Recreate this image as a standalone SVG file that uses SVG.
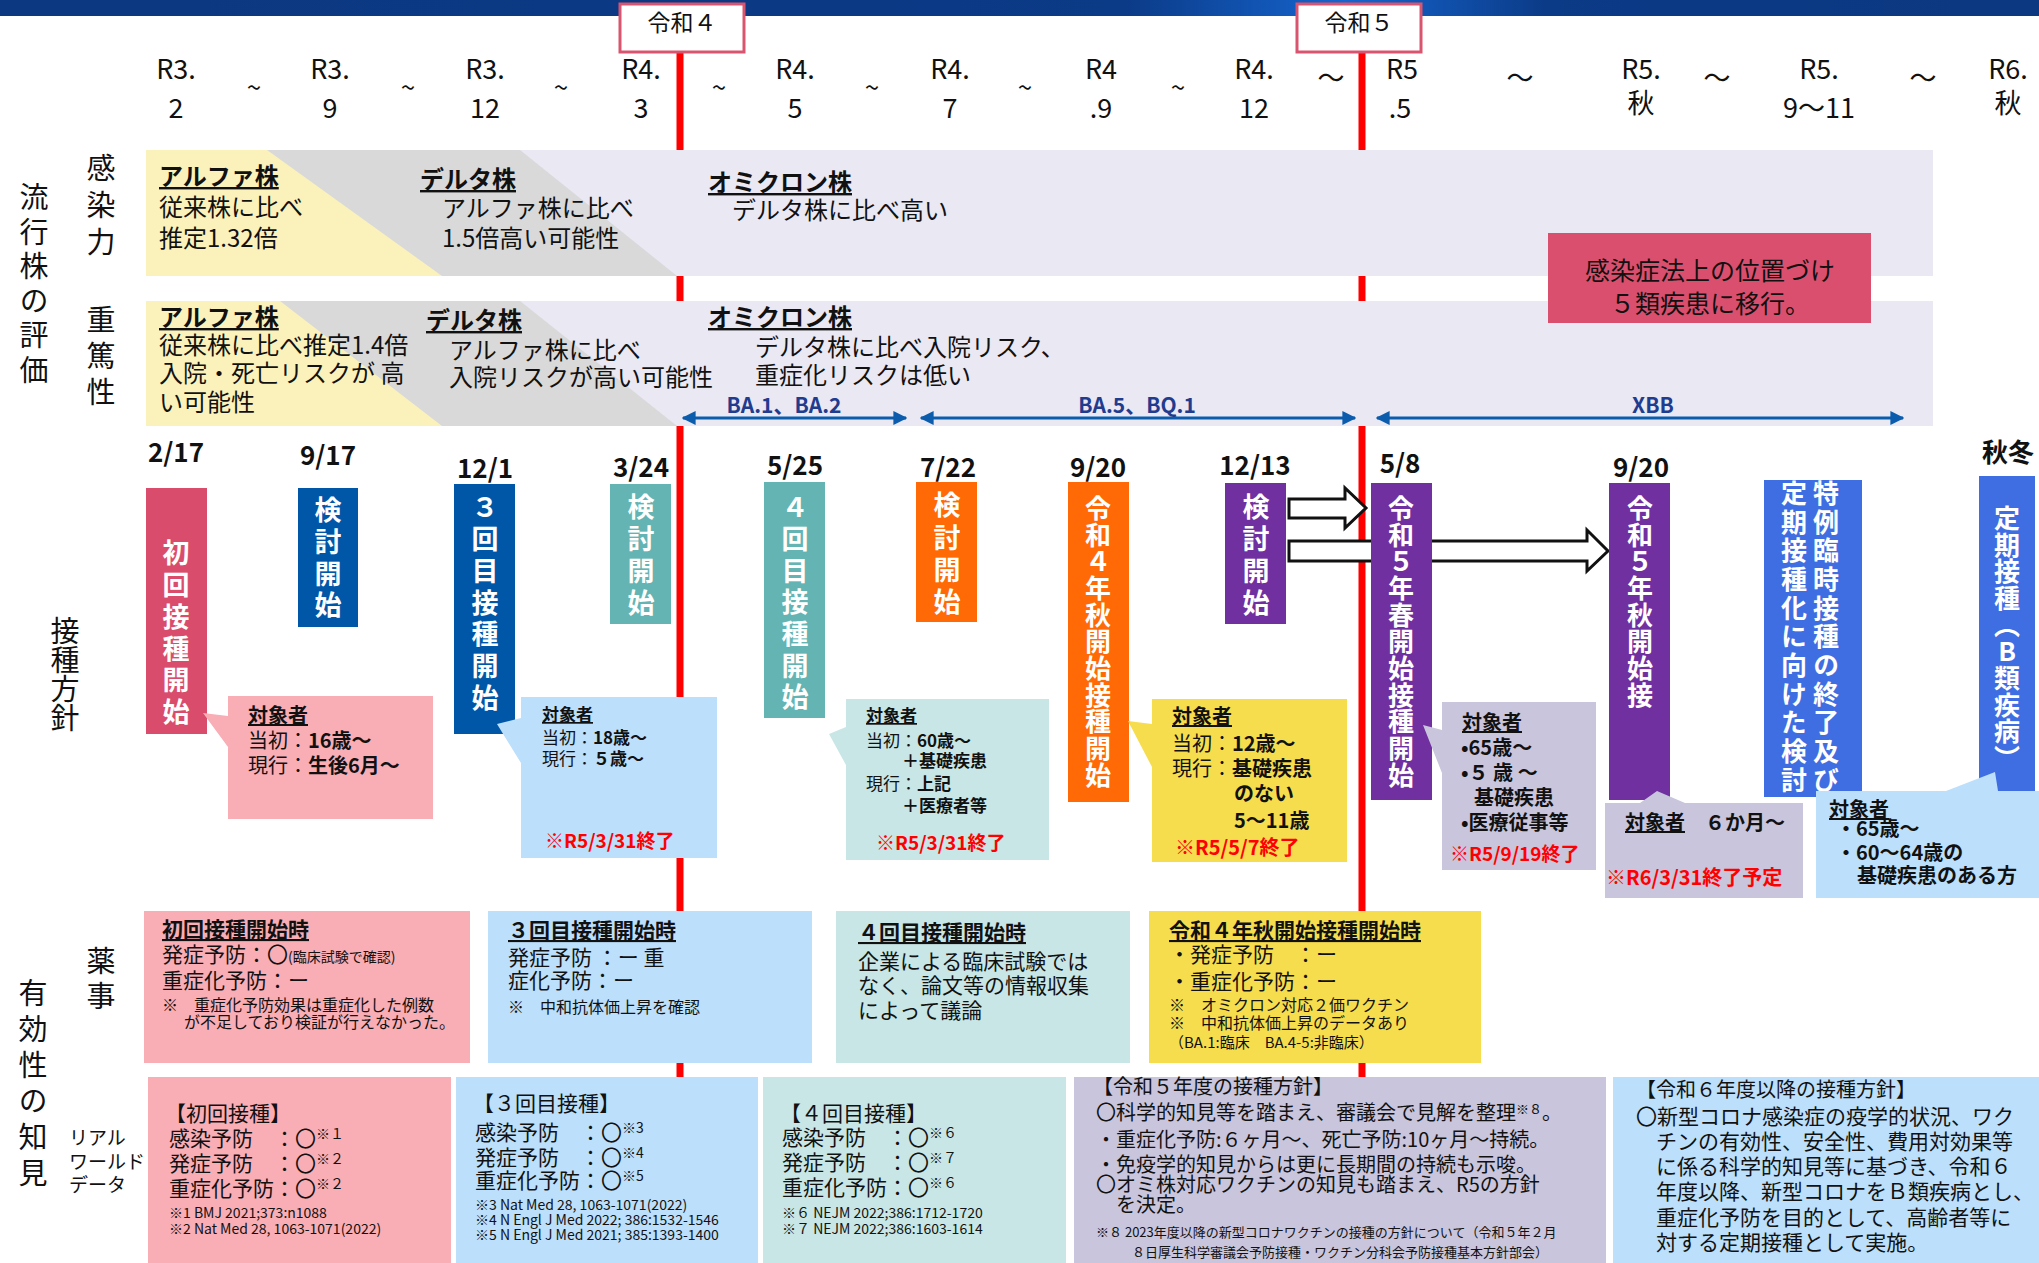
<svg xmlns="http://www.w3.org/2000/svg" width="2039" height="1263" viewBox="0 0 2039 1263">
<defs>
<linearGradient id="ban" x1="0" x2="1" y1="0" y2="0">
<stop offset="0" stop-color="#0b3880"/>
<stop offset="0.55" stop-color="#0b3a86"/>
<stop offset="0.66" stop-color="#1565cf"/>
<stop offset="0.76" stop-color="#0b3a86"/>
<stop offset="1" stop-color="#0b3880"/>
</linearGradient>
<marker id="ah" viewBox="0 0 10 10" refX="9" refY="5" markerWidth="14" markerHeight="16" markerUnits="userSpaceOnUse" orient="auto-start-reverse"><path d="M0,0 L10,5 L0,10 z" fill="#0b5cad"/></marker>
</defs>
<style>
text{font-family:"Noto Sans CJK JP","Noto Sans",sans-serif;fill:#111;}
.b{font-weight:700}
.u{text-decoration:underline}
.r{fill:#ff0000;font-weight:700}
.vt{writing-mode:vertical-rl;text-orientation:upright;font-weight:700;fill:#fff;font-size:27px}
.vt2{writing-mode:vertical-rl;text-orientation:upright;font-weight:700;fill:#fff;font-size:26px}
.vl{writing-mode:vertical-rl;text-orientation:upright;font-size:29px}
.hd{font-size:27px;text-anchor:middle}
.tl{font-size:26px;text-anchor:middle}
.tl2{font-size:27px;text-anchor:middle}
.dt{font-size:26px;font-weight:700;text-anchor:middle}
.ev{font-size:24px}
.ba{font-size:21px;font-weight:700;fill:#1f3c8f;text-anchor:middle}
.rl{stroke:#ff0000;stroke-width:7}
.eva{fill:#e9e8f3}
.gry{fill:#d9d9d9}
.ylw{fill:#fbf2bb}
.pk{fill:#f9adb5}
.lb{fill:#bcdffb}
.tq{fill:#c8e6e5}
.yl{fill:#f6dd4e}
.lv{fill:#c8c5dc}
.blk{fill:#fff;stroke:#111;stroke-width:3;stroke-linejoin:miter}
.baa{stroke:#0b5cad;stroke-width:3;fill:none}
</style>

<rect x="0" y="0" width="2039" height="1263" fill="#fff"/>
<rect x="0" y="0" width="2039" height="16" fill="url(#ban)"/>

<g id="redlines">
<line class="rl" x1="680" y1="50" x2="680" y2="1078"/>
<line class="rl" x1="1362" y1="50" x2="1362" y2="1078"/>
</g>

<g id="year-r4">
<rect x="620" y="4" width="124" height="48" fill="#fff" stroke="#d9546e" stroke-width="3"/>
<text x="682" y="31" font-size="23" text-anchor="middle">令和４</text>
</g>
<g id="year-r5">
<rect x="1297" y="4" width="124" height="48" fill="#fff" stroke="#d9546e" stroke-width="3"/>
<text x="1359" y="31" font-size="23" text-anchor="middle">令和５</text>
</g>

<g id="timeline-header">
<text class="hd" x="176" y="79">R3.</text><text class="hd" x="176" y="118">2</text>
<text class="tl" x="254" y="97">~</text>
<text class="hd" x="330" y="79">R3.</text><text class="hd" x="330" y="118">9</text>
<text class="tl" x="408" y="97">~</text>
<text class="hd" x="485" y="79">R3.</text><text class="hd" x="485" y="118">12</text>
<text class="tl" x="561" y="97">~</text>
<text class="hd" x="641" y="79">R4.</text><text class="hd" x="641" y="118">3</text>
<text class="tl" x="719" y="97">~</text>
<text class="hd" x="795" y="79">R4.</text><text class="hd" x="795" y="118">5</text>
<text class="tl" x="872" y="97">~</text>
<text class="hd" x="950" y="79">R4.</text><text class="hd" x="950" y="118">7</text>
<text class="tl" x="1025" y="97">~</text>
<text class="hd" x="1101" y="79">R4</text><text class="hd" x="1101" y="118">.9</text>
<text class="tl" x="1178" y="97">~</text>
<text class="hd" x="1254" y="79">R4.</text><text class="hd" x="1254" y="118">12</text>
<text class="tl2" x="1331" y="88">～</text>
<text class="hd" x="1402" y="79">R5</text><text class="hd" x="1400" y="118">.5</text>
<text class="tl2" x="1520" y="88">～</text>
<text class="hd" x="1641" y="79">R5.</text><text class="hd" x="1641" y="113">秋</text>
<text class="tl2" x="1717" y="88">～</text>
<text class="hd" x="1819" y="79">R5.</text><text class="hd" x="1819" y="118">9～11</text>
<text class="tl2" x="1923" y="88">～</text>
<text class="hd" x="2008" y="79">R6.</text><text class="hd" x="2008" y="113">秋</text>
</g>

<g id="side-labels">
<text class="vl" x="34" y="182.5" style="letter-spacing:5.6px">流行株の評価</text>
<text class="vl" x="101" y="153.5" style="letter-spacing:8px">感染力</text>
<text class="vl" x="101" y="305.5" style="letter-spacing:7px">重篤性</text>
<text class="vl" x="65" y="616" style="letter-spacing:0px">接種方針</text>
<text class="vl" x="101" y="946.5" style="letter-spacing:6px">薬事</text>
<text class="vl" x="33" y="978.5" style="letter-spacing:7px">有効性の知見</text>
<text font-size="19" x="69" y="1145">リアル</text>
<text font-size="19" x="69" y="1169">ワールド</text>
<text font-size="19" x="69" y="1192">データ</text>
</g>

<g id="row-infectivity">
<rect class="eva" x="146" y="150" width="1787" height="126"/>
<polygon class="gry" points="146,150 520,150 677,276 146,276"/>
<polygon class="ylw" points="146,150 267,150 442,276 146,276"/>
<text class="ev b u" x="159" y="185">アルファ株</text>
<text class="ev" x="159" y="216">従来株に比べ</text>
<text class="ev" x="159" y="247">推定1.32倍</text>
<text class="ev b u" x="420" y="188">デルタ株</text>
<text class="ev" x="442" y="217">アルファ株に比べ</text>
<text class="ev" x="442" y="247">1.5倍高い可能性</text>
<text class="ev b u" x="708" y="191">オミクロン株</text>
<text class="ev" x="732" y="219">デルタ株に比べ高い</text>
</g>

<g id="row-severity">
<rect class="eva" x="146" y="301" width="1787" height="125"/>
<polygon class="gry" points="146,301 520,301 677,426 146,426"/>
<polygon class="ylw" points="146,301 280,301 442,426 146,426"/>
<text class="ev b u" x="159" y="326">アルファ株</text>
<text class="ev" x="159" y="354">従来株に比べ推定1.4倍</text>
<text class="ev" x="159" y="382">入院・死亡リスクが 高</text>
<text class="ev" x="159" y="411">い可能性</text>
<text class="ev b u" x="426" y="329">デルタ株</text>
<text class="ev" x="449" y="359">アルファ株に比べ</text>
<text class="ev" x="449" y="386">入院リスクが高い可能性</text>
<text class="ev b u" x="708" y="326">オミクロン株</text>
<text class="ev" x="755" y="356">デルタ株に比べ入院リスク、</text>
<text class="ev" x="755" y="384">重症化リスクは低い</text>
</g>

<g id="law-change">
<rect x="1548" y="233" width="323" height="90" fill="#da4f6e"/>
<text x="1710" y="280" font-size="25" text-anchor="middle" fill="#fff">感染症法上の位置づけ</text>
<text x="1710" y="313" font-size="25" text-anchor="middle" fill="#fff">５類疾患に移行。</text>
</g>

<g id="variants">
<line class="baa" x1="683" y1="418" x2="906" y2="418" marker-start="url(#ah)" marker-end="url(#ah)"/>
<line class="baa" x1="921" y1="418" x2="1355" y2="418" marker-start="url(#ah)" marker-end="url(#ah)"/>
<line class="baa" x1="1377" y1="418" x2="1903" y2="418" marker-start="url(#ah)" marker-end="url(#ah)"/>
<text class="ba" x="784" y="413">BA.1、BA.2</text>
<text class="ba" x="1137" y="413">BA.5、BQ.1</text>
<text class="ba" x="1653" y="413">XBB</text>
</g>

<g id="dates">
<text class="dt" x="176" y="462">2/17</text>
<text class="dt" x="328" y="465">9/17</text>
<text class="dt" x="485" y="478">12/1</text>
<text class="dt" x="641" y="477">3/24</text>
<text class="dt" x="795" y="475">5/25</text>
<text class="dt" x="948" y="477">7/22</text>
<text class="dt" x="1098" y="477">9/20</text>
<text class="dt" x="1255" y="475">12/13</text>
<text class="dt" x="1400" y="473">5/8</text>
<text class="dt" x="1641" y="477">9/20</text>
<text class="dt" x="2008" y="462">秋冬</text>
</g>

<g id="connectors">
<path class="blk" d="M1289,499 H1345 V488 L1366,508 L1345,528 V518 H1289 Z"/>
<path class="blk" d="M1289,541 H1587 V530 L1608,551 L1587,571 V561 H1289 Z"/>
</g>

<g id="n-first">
<rect x="146" y="488" width="61" height="246" fill="#da4c6c"/>
<text class="vt" x="176" y="539.5" style="letter-spacing:4.8px">初回接種開始</text>
</g>
<g id="n-review1">
<rect x="298" y="488" width="60" height="139" fill="#0057a8"/>
<text class="vt" x="328" y="496.5" style="letter-spacing:4.7px">検討開始</text>
</g>
<g id="n-third">
<rect x="454" y="484" width="61" height="250" fill="#0057a8"/>
<text class="vt" x="485" y="493.5" style="letter-spacing:4.8px">３回目接種開始</text>
</g>
<g id="n-review2">
<rect x="610" y="484" width="61" height="140" fill="#63b4b3"/>
<text class="vt" x="641" y="493.5" style="letter-spacing:5px">検討開始</text>
</g>
<g id="n-fourth">
<rect x="764" y="482" width="61" height="236" fill="#63b4b3"/>
<text class="vt" x="795" y="493.5" style="letter-spacing:4.7px">４回目接種開始</text>
</g>
<g id="n-review3">
<rect x="916" y="482" width="61" height="140" fill="#ff6a06"/>
<text class="vt" x="947" y="491.5" style="letter-spacing:5.3px">検討開始</text>
</g>
<g id="n-r4autumn">
<rect x="1068" y="482" width="61" height="320" fill="#ff6a06"/>
<text class="vt2" x="1098" y="495" style="letter-spacing:0.7px">令和４年秋開始接種開始</text>
</g>
<g id="n-review4">
<rect x="1225" y="483" width="61" height="141" fill="#7030a0"/>
<text class="vt" x="1256" y="493.5" style="letter-spacing:5px">検討開始</text>
</g>
<g id="n-r5spring">
<rect x="1371" y="483" width="61" height="317" fill="#7030a0"/>
<text class="vt2" x="1401" y="495" style="letter-spacing:0.7px">令和５年春開始接種開始</text>
</g>
<g id="n-r5autumn">
<rect x="1609" y="483" width="61" height="317" fill="#7030a0"/>
<text class="vt2" x="1640" y="495" style="letter-spacing:0.7px">令和５年秋開始接</text>
</g>
<g id="n-special">
<rect x="1764" y="480" width="98" height="317" fill="#3f6ee2"/>
<text class="vt2" x="1826" y="480" style="letter-spacing:2.7px">特例臨時接種の終了及び</text>
<text class="vt2" x="1794" y="480" style="letter-spacing:2.7px">定期接種化に向けた検討</text>
</g>
<g id="n-routine">
<rect x="1979" y="476" width="56" height="324" fill="#3f6ee2"/>
<text class="vt2" x="2007" y="505" style="letter-spacing:0.7px">定期接種（B類疾病）</text>
</g>

<g id="c-first">
<path class="pk" d="M228,696 H433 V819 H228 V747 L203,713 L228,716 Z"/>
<text class="b u" font-size="20" x="248" y="723">対象者</text>
<text font-size="20" x="248" y="748">当初：<tspan class="b">16歳～</tspan></text>
<text font-size="20" x="248" y="773">現行：<tspan class="b">生後6月～</tspan></text>
</g>
<g id="c-third">
<path class="lb" d="M521,697 H717 V858 H521 V763 L497,724 L521,718 Z"/>
<text class="b u" font-size="17" x="542" y="721">対象者</text>
<text font-size="17" x="542" y="744">当初：<tspan class="b">18歳～</tspan></text>
<text font-size="17" x="542" y="765">現行：<tspan class="b">５歳～</tspan></text>
<text class="r" font-size="19" x="545" y="848">※R5/3/31終了</text>
</g>
<g id="c-fourth">
<path class="tq" d="M846,699 H1049 V860 H846 V765 L829,734 L846,727 Z"/>
<text class="b u" font-size="17" x="866" y="722">対象者</text>
<text font-size="17" x="866" y="747">当初：<tspan class="b">60歳～</tspan></text>
<text class="b" font-size="17" x="902" y="767">＋基礎疾患</text>
<text font-size="17" x="866" y="790">現行：<tspan class="b">上記</tspan></text>
<text class="b" font-size="17" x="902" y="812">＋医療者等</text>
<text class="r" font-size="19" x="876" y="850">※R5/3/31終了</text>
</g>
<g id="c-r4autumn">
<path class="yl" d="M1152,699 H1347 V862 H1152 V767 L1128,721 L1152,724 Z"/>
<text class="b u" font-size="20" x="1172" y="724">対象者</text>
<text font-size="20" x="1172" y="751">当初：<tspan class="b">12歳～</tspan></text>
<text font-size="20" x="1172" y="776">現行：<tspan class="b">基礎疾患</tspan></text>
<text class="b" font-size="20" x="1234" y="801">のない</text>
<text class="b" font-size="20" x="1234" y="828">5～11歳</text>
<text class="r" font-size="20" x="1175" y="855">※R5/5/7終了</text>
</g>
<g id="c-r5spring">
<path class="lv" d="M1442,702 H1596 V870 H1442 V773 L1423,725 L1442,730 Z"/>
<text class="b u" font-size="20" x="1462" y="730">対象者</text>
<text class="b" font-size="20" x="1461" y="755">•65歳～</text>
<text class="b" font-size="20" x="1461" y="780">•５ 歳 ～</text>
<text class="b" font-size="20" x="1474" y="805">基礎疾患</text>
<text class="b" font-size="20" x="1461" y="830">•医療従事等</text>
<text class="r" font-size="19" x="1450" y="861">※R5/9/19終了</text>
</g>
<g id="c-r5autumn">
<path class="lv" d="M1605,803 H1640 L1657,791 L1685,803 H1803 V898 H1605 Z"/>
<text class="b" font-size="20" x="1625" y="830"><tspan class="u">対象者</tspan>　６か月～</text>
<text class="r" font-size="20" x="1606" y="885">※R6/3/31終了予定</text>
</g>
<g id="c-routine">
<path class="lb" d="M1816,791 H1946 L1995,772 L1998,791 H2039 V898 H1816 Z"/>
<text class="b u" font-size="20" x="1829" y="817">対象者</text>
<text class="b" font-size="20" x="1836" y="836">・65歳～</text>
<text class="b" font-size="20" x="1836" y="860">・60～64歳の</text>
<text class="b" font-size="20" x="1857" y="883">基礎疾患のある方</text>
</g>

<g id="e-first">
<rect class="pk" x="144" y="911" width="326" height="152"/>
<text class="b u" font-size="21" x="162" y="937">初回接種開始時</text>
<text font-size="21" x="162" y="962">発症予防：〇<tspan font-size="14">(臨床試験で確認)</tspan></text>
<text font-size="21" x="162" y="988">重症化予防：ー</text>
<text font-size="16" x="162" y="1011">※　重症化予防効果は重症化した例数</text>
<text font-size="16" x="184" y="1028">が不足しており検証が行えなかった。</text>
</g>
<g id="e-third">
<rect class="lb" x="488" y="911" width="324" height="152"/>
<text class="b u" font-size="21" x="508" y="938">３回目接種開始時</text>
<text font-size="21" x="508" y="965">発症予防 ：ー 重</text>
<text font-size="21" x="508" y="988">症化予防：ー</text>
<text font-size="16" x="508" y="1013">※　中和抗体価上昇を確認</text>
</g>
<g id="e-fourth">
<rect class="tq" x="836" y="911" width="294" height="152"/>
<text class="b u" font-size="21" x="858" y="940">４回目接種開始時</text>
<text font-size="21" x="858" y="969">企業による臨床試験では</text>
<text font-size="21" x="858" y="993">なく、論文等の情報収集</text>
<text font-size="21" x="858" y="1018">によって議論</text>
</g>
<g id="e-r4autumn">
<rect class="yl" x="1149" y="911" width="332" height="152"/>
<text class="b u" font-size="21" x="1169" y="938">令和４年秋開始接種開始時</text>
<text font-size="21" x="1169" y="962">・発症予防　：ー</text>
<text font-size="21" x="1169" y="989">・重症化予防：ー</text>
<text font-size="16" x="1169" y="1011">※　オミクロン対応２価ワクチン</text>
<text font-size="16" x="1169" y="1029">※　中和抗体価上昇のデータあり</text>
<text font-size="15" x="1169" y="1048">（BA.1:臨床　BA.4-5:非臨床）</text>
</g>

<g id="rw-first">
<rect class="pk" x="148" y="1077" width="303" height="186"/>
<text font-size="21" x="165" y="1121">【初回接種】</text>
<text font-size="21" x="169" y="1146">感染予防　：〇<tspan font-size="14" dy="-7">※１</tspan></text>
<text font-size="21" x="169" y="1171">発症予防　：〇<tspan font-size="14" dy="-7">※２</tspan></text>
<text font-size="21" x="169" y="1196">重症化予防：〇<tspan font-size="14" dy="-7">※２</tspan></text>
<text font-size="14" x="169" y="1218">※1 BMJ 2021;373:n1088</text>
<text font-size="14" x="169" y="1234">※2 Nat Med 28, 1063-1071(2022)</text>
</g>
<g id="rw-third">
<rect class="lb" x="456" y="1077" width="302" height="186"/>
<text font-size="21" x="473" y="1111">【３回目接種】</text>
<text font-size="21" x="475" y="1140">感染予防　：〇<tspan font-size="14" dy="-7">※3</tspan></text>
<text font-size="21" x="475" y="1165">発症予防　：〇<tspan font-size="14" dy="-7">※4</tspan></text>
<text font-size="21" x="475" y="1188">重症化予防：〇<tspan font-size="14" dy="-7">※5</tspan></text>
<text font-size="14" x="475" y="1210">※3 Nat Med 28, 1063-1071(2022)</text>
<text font-size="14" x="475" y="1225">※4 N Engl J Med 2022; 386:1532-1546</text>
<text font-size="14" x="475" y="1240">※5 N Engl J Med 2021; 385:1393-1400</text>
</g>
<g id="rw-fourth">
<rect class="tq" x="763" y="1077" width="303" height="186"/>
<text font-size="21" x="780" y="1121">【４回目接種】</text>
<text font-size="21" x="782" y="1145">感染予防　：〇<tspan font-size="14" dy="-7">※６</tspan></text>
<text font-size="21" x="782" y="1170">発症予防　：〇<tspan font-size="14" dy="-7">※７</tspan></text>
<text font-size="21" x="782" y="1195">重症化予防：〇<tspan font-size="14" dy="-7">※６</tspan></text>
<text font-size="14" x="782" y="1218">※６ NEJM 2022;386:1712-1720</text>
<text font-size="14" x="782" y="1234">※７ NEJM 2022;386:1603-1614</text>
</g>
<g id="rw-r5policy">
<rect class="lv" x="1074" y="1077" width="532" height="186"/>
<text font-size="20" x="1093" y="1094">【令和５年度の接種方針】</text>
<text font-size="20" x="1096" y="1120">〇科学的知見等を踏まえ、審議会で見解を整理<tspan font-size="13" dy="-6">※８</tspan><tspan dy="6">。</tspan></text>
<text font-size="20" x="1096" y="1147">・重症化予防:６ヶ月～、死亡予防:10ヶ月～持続。</text>
<text font-size="20" x="1096" y="1172">・免疫学的知見からは更に長期間の持続も示唆。</text>
<text font-size="20" x="1096" y="1192">〇オミ株対応ワクチンの知見も踏まえ、R5の方針</text>
<text font-size="20" x="1096" y="1212">　を決定。</text>
<text font-size="13" x="1096" y="1237">※８ 2023年度以降の新型コロナワクチンの接種の方針について（令和５年２月</text>
<text font-size="13" x="1132" y="1257">８日厚生科学審議会予防接種・ワクチン分科会予防接種基本方針部会）</text>
</g>
<g id="rw-r6policy">
<rect class="lb" x="1613" y="1077" width="426" height="186"/>
<text font-size="20" x="1636" y="1097">【令和６年度以降の接種方針】</text>
<text font-size="21" x="1636" y="1124">〇新型コロナ感染症の疫学的状況、ワク</text>
<text font-size="21" x="1656" y="1149">チンの有効性、安全性、費用対効果等</text>
<text font-size="21" x="1656" y="1174">に係る科学的知見等に基づき、令和６</text>
<text font-size="21" x="1656" y="1199">年度以降、新型コロナをＢ類疾病とし、</text>
<text font-size="21" x="1656" y="1225">重症化予防を目的として、高齢者等に</text>
<text font-size="21" x="1656" y="1250">対する定期接種として実施。</text>
</g>
</svg>
